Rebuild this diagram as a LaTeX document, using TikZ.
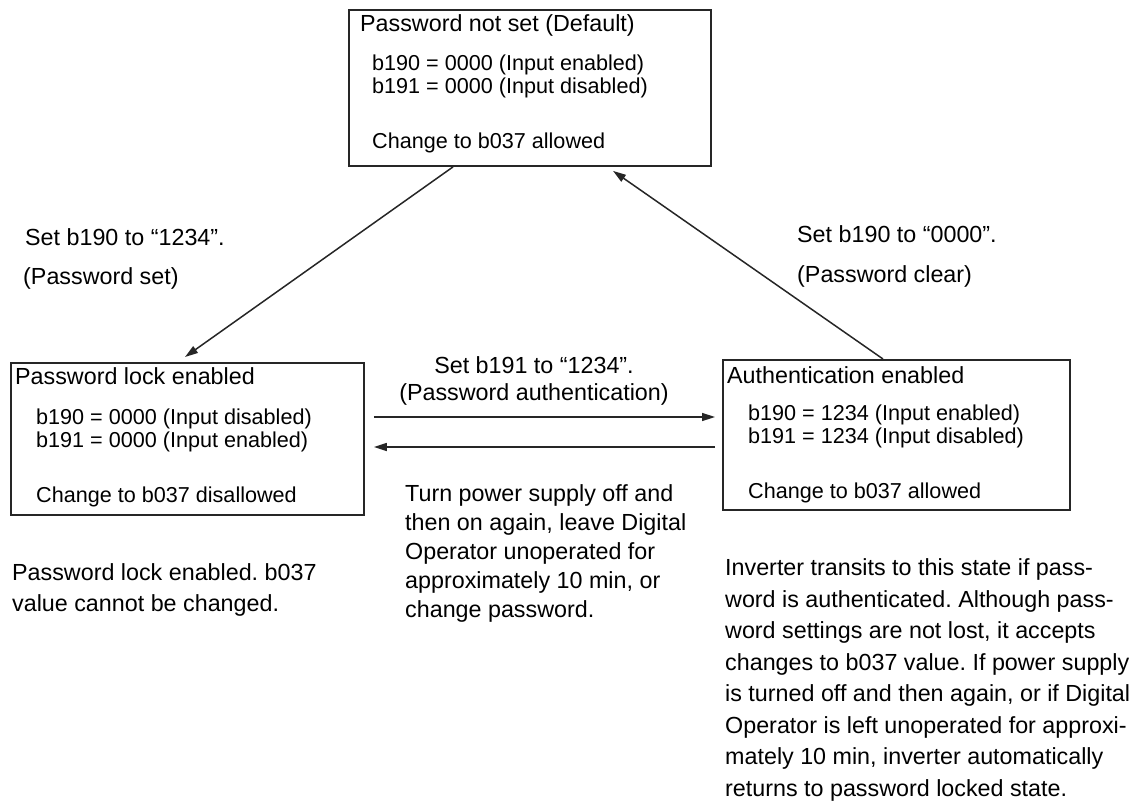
\documentclass[tikz,border=0pt]{standalone}
\usepackage{fontspec}
\setmainfont{Liberation Sans}
\usetikzlibrary{arrows.meta}
\frenchspacing
\begin{document}
% multi-line nodes are placed by the baseline of their last line
\begin{tikzpicture}[x=1pt,y=-1pt,
  statebox/.style={draw=black!85, line width=1.9pt, inner sep=0pt, anchor=north west},
  boxtitle/.style={anchor=base west, inner sep=0pt, font=\fontsize{23.3}{28}\selectfont},
  boxbody/.style={anchor=base west, inner sep=0pt, align=left, font=\fontsize{21.6}{23}\selectfont},
  note/.style={anchor=base west, inner sep=0pt, align=left, font=\fontsize{23.3}{30.5}\selectfont},
  arrow/.style={draw=black!85, line width=1.5pt, -{Triangle[length=13pt,width=8pt]}}
]
\useasboundingbox (0,0) rectangle (1141,806);

% state boxes
\node[statebox, minimum width=362pt, minimum height=156pt] (top)  at (348,9)   {};
\node[statebox, minimum width=353pt, minimum height=152pt] (lock) at (10,362)  {};
\node[statebox, minimum width=347pt, minimum height=150pt] (auth) at (722,359) {};

% box contents
\node[boxtitle] (topT) at (360,31) {Password not set (Default)};
\node[boxbody]  (topB) at (372,148) {b190 = 0000 (Input enabled)\\ b191 = 0000 (Input disabled)\\[32pt] Change to b037 allowed};

\node[boxtitle] (lockT) at (15,384) {Password lock enabled};
\node[boxbody]  (lockB) at (36,502) {b190 = 0000 (Input disabled)\\ b191 = 0000 (Input enabled)\\[32pt] Change to b037 disallowed};

\node[boxtitle] (authT) at (727,383) {Authentication enabled};
\node[boxbody]  (authB) at (748,498) {b190 = 1234 (Input enabled)\\ b191 = 1234 (Input disabled)\\[32pt] Change to b037 allowed};

% transitions
\draw[arrow] ([xshift=105pt]top.south west) -- ([xshift=175pt,yshift=5pt]lock.north west);
\draw[arrow] ([xshift=161pt]auth.north west) -- ([xshift=265pt,yshift=-4pt]top.south west);
\draw[arrow, shorten <=9pt, shorten >=7pt] (lock.east |- 0,417) -- (auth.west |- 0,417);
\draw[arrow, shorten <=7pt, shorten >=9pt] (auth.west |- 0,447) -- (lock.east |- 0,447);

% transition labels
\node[note] (setA) at (25,245) {Set b190 to “1234”.};
\node[note] (setB) at (23,284) {(Password set)};
\node[note] (clrA) at (797,242) {Set b190 to “0000”.};
\node[note] (clrB) at (797,282) {(Password clear)};
\node[anchor=base, inner sep=0pt, align=center, font=\fontsize{23.3}{27}\selectfont] (authL) at (534,400)
  {Set b191 to “1234”.\\(Password authentication)};
\node[note, font=\fontsize{23.3}{29}\selectfont] (resetL) at (405,617) {Turn power supply off and\\then on again, leave Digital\\Operator unoperated for\\approximately 10 min, or\\change password.};

% state descriptions
\node[note] (lockD) at (12,611) {Password lock enabled. b037\\value cannot be changed.};
\node[note, font=\fontsize{23.3}{31.5}\selectfont] (authD) at (725,796) {Inverter transits to this state if pass-\\word is authenticated. Although pass-\\word settings are not lost, it accepts\\changes to b037 value. If power supply\\is turned off and then again, or if Digital\\Operator is left unoperated for approxi-\\mately 10 min, inverter automatically\\returns to password locked state.};
\end{tikzpicture}
\end{document}
